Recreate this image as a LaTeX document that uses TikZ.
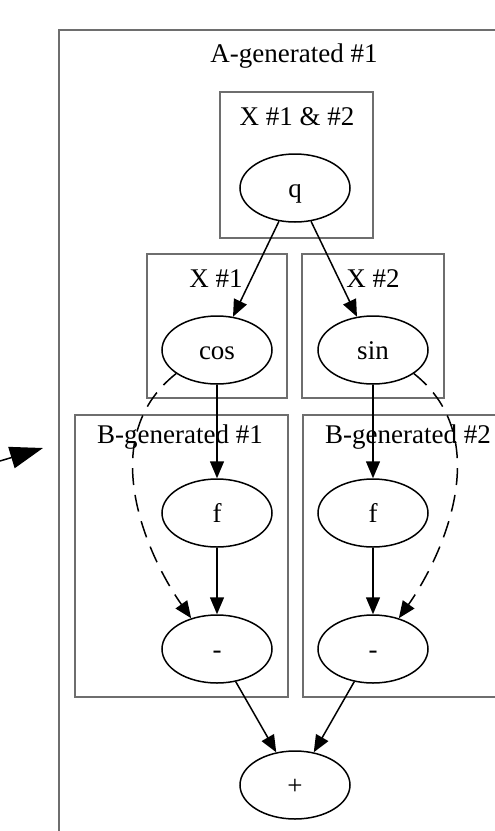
\documentclass[tikz,border=0pt]{standalone}
\usepackage{fontspec}
\setmainfont{Liberation Serif}
\usetikzlibrary{arrows.meta,shapes.geometric}
\definecolor{clgray}{RGB}{110,110,110}
\begin{document}
\begin{tikzpicture}[x=1pt,y=-1pt,
  cluster/.style={draw=clgray, line width=2.8pt},
  op/.style={draw, ellipse, line width=1.5pt, minimum width=110pt, minimum height=68pt, inner sep=0pt, text height=19pt, text depth=0pt, font=\fontsize{27}{31}\selectfont},
  lbl/.style={anchor=base, inner sep=0pt, font=\fontsize{27}{31}\selectfont},
  edge/.style={draw, line width=1.5pt, -{Triangle[length=17pt,width=14pt]}},
  dedge/.style={edge, dash pattern=on 17pt off 10pt}]
\useasboundingbox (0,0) rectangle (495,831);
\clip (0,0) rectangle (495,831);
% clusters
\draw[cluster] (59,30) rectangle (520,860);
\draw[cluster] (220,92) rectangle (373,238);
\draw[cluster] (147,254) rectangle (287,398);
\draw[cluster] (302,254) rectangle (444,398);
\draw[cluster] (75,415) rectangle (288,697);
\draw[cluster] (303,415) rectangle (513,697);
% cluster labels
\node[lbl] (la) at (294,62) {A-generated \#1};
\node[lbl] (lx12) at (297,125) {X \#1 \& \#2};
\node[lbl] (lx1) at (216,287) {X \#1};
\node[lbl] (lx2) at (373,287) {X \#2};
\node[lbl] (lb1) at (180,443) {B-generated \#1};
\node[lbl] (lb2) at (408,443) {B-generated \#2};
% operation nodes
\node[op] (q) at (295,188) {q};
\node[op] (cos) at (217,350) {cos};
\node[op] (sin) at (373,350) {sin};
\node[op] (f1) at (217,513) {f};
\node[op] (f2) at (373,513) {f};
\node[op] (m1) at (217,649) {-};
\node[op] (m2) at (373,649) {-};
\node[op] (plus) at (295,785) {+};
% edges
\draw[edge] (q) -- (cos);
\draw[edge] (q) -- (sin);
\draw[edge] (cos) -- (f1);
\draw[edge] (sin) -- (f2);
\draw[edge] (f1) -- (m1);
\draw[edge] (f2) -- (m2);
\draw[edge] (m1) -- (plus);
\draw[edge] (m2) -- (plus);
\draw[dedge] (cos.210) .. controls (92,440) and (150,560) .. (m1.130);
\draw[dedge] (sin.330) .. controls (498,440) and (440,560) .. (m2.50);
% stray arrow entering from the left
\coordinate (s0) at (0,461);
\coordinate (s1) at (43,448);
\draw[line width=1.5pt, -{Triangle[length=33pt,width=22pt]}] (s0) -- (s1);
\end{tikzpicture}
\end{document}
